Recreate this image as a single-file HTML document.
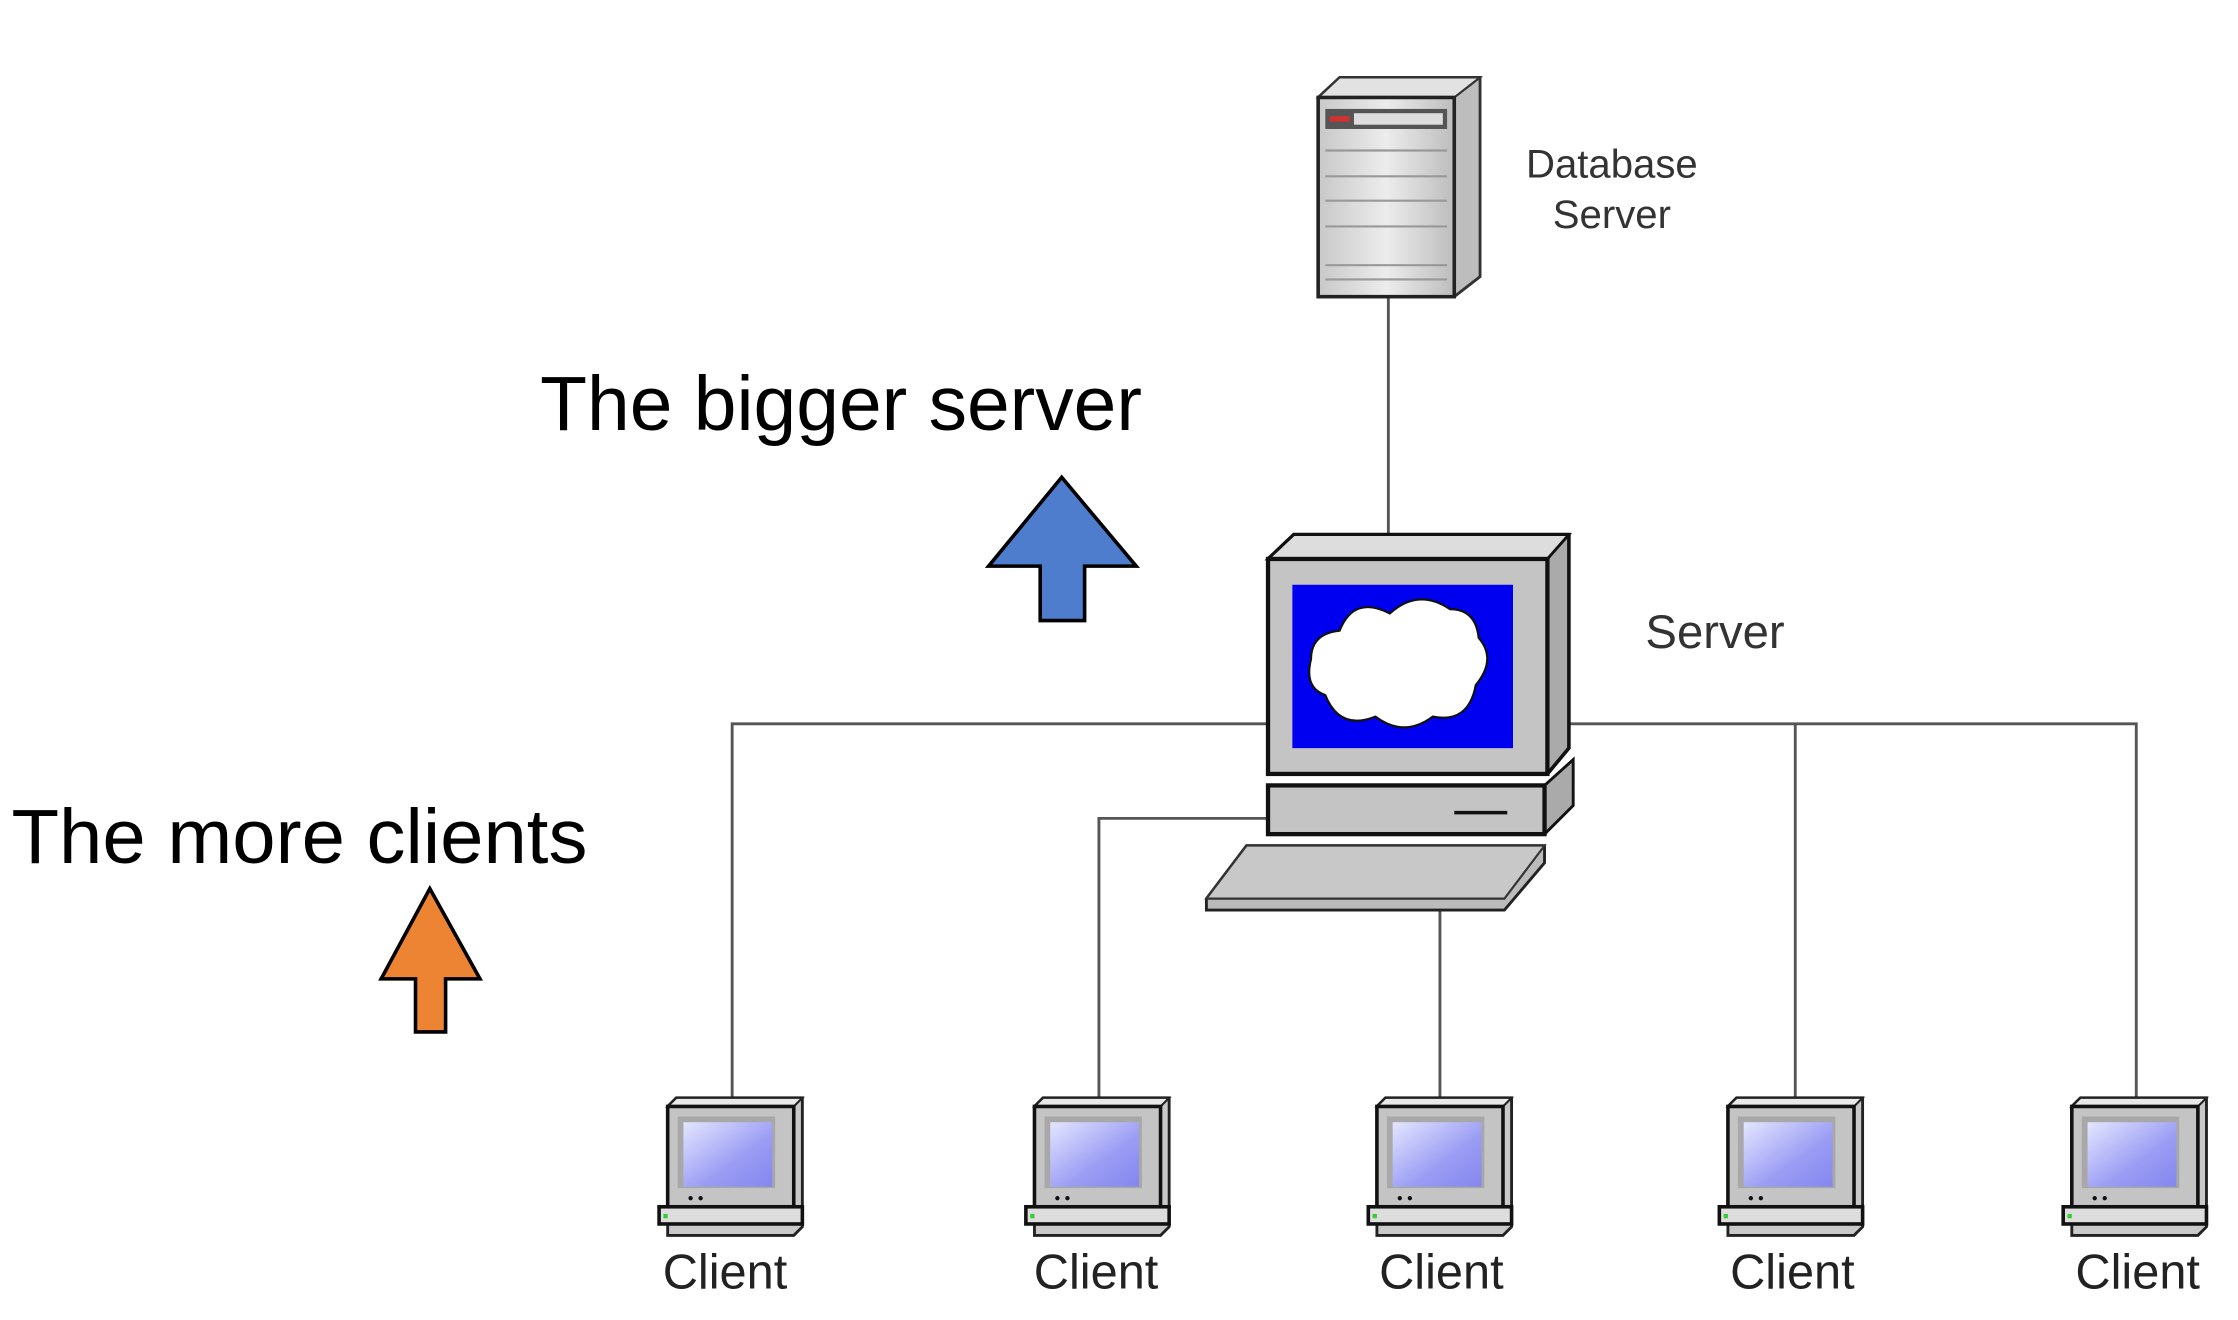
<!DOCTYPE html>
<html><head><meta charset="utf-8"><style>html,body{margin:0;padding:0;background:#fff}svg{display:block}</style></head>
<body>
<svg width="2238" height="1320" viewBox="0 0 1562 921" preserveAspectRatio="none" xmlns="http://www.w3.org/2000/svg">
<defs>
<linearGradient id="scr" x1="0" y1="0" x2="1" y2="1"><stop offset="0" stop-color="#e4e6ff"/><stop offset="0.6" stop-color="#9a9cf4"/><stop offset="1" stop-color="#8486ee"/></linearGradient>
<linearGradient id="db" x1="0" y1="0" x2="1" y2="0"><stop offset="0" stop-color="#c8c8c8"/><stop offset="0.5" stop-color="#ececec"/><stop offset="1" stop-color="#bdbdbd"/></linearGradient>
<g id="client">
<polygon points="-42,-40 -36,-46 52,-46 52,44 46,50 -42,50" fill="#c9c9c9" stroke="#222" stroke-width="2"/>
<polygon points="-36,-46 52,-46 46,-40 -42,-40" fill="#e8e8e8" stroke="#222" stroke-width="1.5"/>
<rect x="-42" y="-40" width="88" height="70" fill="#c4c4c4" stroke="#111" stroke-width="2.5"/>
<rect x="-35" y="-33" width="68" height="50" fill="#a8a8a8"/>
<rect x="-31" y="-29" width="62" height="45" fill="url(#scr)"/>
<circle cx="-26" cy="24" r="1.5" fill="#111"/><circle cx="-19" cy="24" r="1.5" fill="#111"/>
<rect x="-48" y="30" width="100" height="12" fill="#ddd" stroke="#111" stroke-width="2.5"/>
<rect x="-45" y="35" width="3" height="3" fill="#3c3"/>
</g>
</defs>
<g stroke="#555" stroke-width="2" fill="none">
<line x1="969" y1="207" x2="969" y2="373"/>
<polyline points="885,505 511,505 511,770"/>
<polyline points="1095,505 1491,505 1491,770"/>
<line x1="1253" y1="505" x2="1253" y2="770"/>
<polyline points="885,571 767,571 767,770"/>
<line x1="1005" y1="632" x2="1005" y2="770"/>
</g>
<polygon points="920,68 935,54 1033,54 1033,193 1015,207 920,207" fill="#bdbdbd" stroke="#333" stroke-width="2"/>
<polygon points="920,68 935,54 1033,54 1015,68" fill="#e2e2e2" stroke="#333" stroke-width="1.5"/>
<rect x="920" y="68" width="95" height="139" fill="url(#db)" stroke="#222" stroke-width="2.5"/>
<rect x="925" y="76" width="85" height="14" fill="#555"/>
<rect x="945" y="79" width="62" height="8" fill="#ddd"/>
<rect x="928" y="81" width="14" height="4" fill="#c33"/>
<g stroke="#999" stroke-width="1.5"><line x1="925" y1="105" x2="1010" y2="105"/><line x1="925" y1="123" x2="1010" y2="123"/><line x1="925" y1="140" x2="1010" y2="140"/><line x1="925" y1="158" x2="1010" y2="158"/><line x1="925" y1="185" x2="1010" y2="185"/><line x1="925" y1="195" x2="1010" y2="195"/></g>
<text x="1125" y="124" font-family="Liberation Sans, sans-serif" font-size="28" fill="#333" text-anchor="middle">Database</text>
<text x="1125" y="159" font-family="Liberation Sans, sans-serif" font-size="28" fill="#333" text-anchor="middle">Server</text>
<polygon points="885,390 903,373 1095,373 1095,522 1080,540 885,540" fill="#aaa" stroke="#111" stroke-width="2.5"/>
<polygon points="885,390 903,373 1095,373 1080,390" fill="#ddd" stroke="#111" stroke-width="2"/>
<rect x="885" y="390" width="195" height="150" fill="#c4c4c4" stroke="#111" stroke-width="3"/>
<rect x="902" y="408" width="154" height="114" fill="#0000f0"/>
<path d="M935,440 Q945,415 970,428 Q990,410 1012,425 Q1030,425 1032,445 Q1045,460 1030,478 Q1025,505 1000,500 Q980,515 960,500 Q935,510 925,485 Q910,480 915,460 Q915,442 935,440Z" fill="#fff" stroke="#111" stroke-width="1.5"/>
<polygon points="885,548 1078,548 1098,530 1098,562 1078,582 885,582" fill="#aaa" stroke="#111" stroke-width="2"/>
<rect x="885" y="548" width="193" height="34" fill="#c4c4c4" stroke="#111" stroke-width="3"/>
<line x1="1015" y1="567" x2="1052" y2="567" stroke="#111" stroke-width="2.5"/>
<polygon points="870,590 1078,590 1078,602 1050,635 842,635 842,627" fill="#bbb" stroke="#222" stroke-width="2"/>
<polygon points="870,590 1078,590 1050,627 842,627" fill="#c8c8c8" stroke="#333" stroke-width="1.5"/>
<text x="1197" y="452" font-family="Liberation Sans, sans-serif" font-size="33" fill="#333" text-anchor="middle">Server</text>
<use href="#client" x="508" y="812"/>
<use href="#client" x="764" y="812"/>
<use href="#client" x="1003" y="812"/>
<use href="#client" x="1248" y="812"/>
<use href="#client" x="1488" y="812"/>
<g font-family="Liberation Sans, sans-serif" font-size="34" fill="#222" text-anchor="middle">
<text x="506" y="899">Client</text><text x="765" y="899">Client</text><text x="1006" y="899">Client</text><text x="1251" y="899">Client</text><text x="1492" y="899">Client</text>
</g>
<text x="377" y="300" font-family="Liberation Sans, sans-serif" font-size="54" fill="#000" textLength="420" lengthAdjust="spacingAndGlyphs">The bigger server</text>
<text x="8" y="602" font-family="Liberation Sans, sans-serif" font-size="54" fill="#000" textLength="402" lengthAdjust="spacingAndGlyphs">The more clients</text>
<polygon points="741,333 793,395 757,395 757,433 726,433 726,395 690,395" fill="#4f7dce" stroke="#000" stroke-width="2.5"/>
<polygon points="300,620 335,683 311,683 311,720 290,720 290,683 266,683" fill="#ec8433" stroke="#000" stroke-width="2.5"/>
</svg>
</body></html>
